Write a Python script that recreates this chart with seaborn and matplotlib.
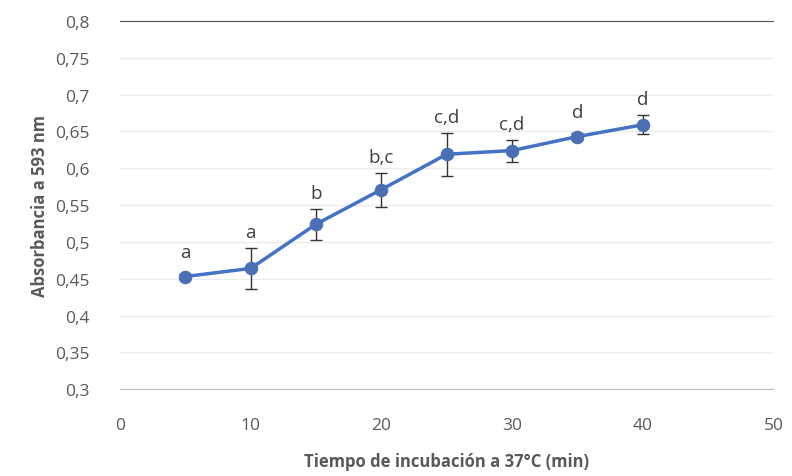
import matplotlib
matplotlib.use('Agg')
import matplotlib.pyplot as plt
import seaborn as sns
import pandas as pd
from matplotlib.ticker import FuncFormatter, MultipleLocator

# datos
tiempo = [5, 10, 15, 20, 25, 30, 35, 40]
absorbancia = [0.453, 0.464, 0.524, 0.571, 0.619, 0.624, 0.643, 0.659]
error = [0.004, 0.028, 0.021, 0.023, 0.029, 0.015, 0.005, 0.013]
letras = ['a', 'a', 'b', 'b,c', 'c,d', 'c,d', 'd', 'd']

df = pd.DataFrame({'tiempo': tiempo, 'abs': absorbancia, 'err': error})

sns.set_style('white')
plt.rcParams['font.family'] = ['Open Sans', 'DejaVu Sans']

gris = '#595959'
azul = '#4472C4'

fig = plt.figure(figsize=(7.92, 4.77), dpi=100)
ax = fig.add_axes([0.1515, 0.182, 0.825, 0.772])

ax.errorbar(df['tiempo'], df['abs'], yerr=df['err'], fmt='none',
            ecolor='#333333', elinewidth=1, capsize=4, capthick=1, zorder=2)
sns.lineplot(data=df, x='tiempo', y='abs', ax=ax, color=azul, linewidth=2.5,
             marker='o', markersize=9, markerfacecolor='#4a6fb5',
             markeredgecolor='#4a6fb5', zorder=3)

for x, y, e, t in zip(tiempo, absorbancia, error, letras):
    ax.annotate(t, (x, max(y + e, y + 0.012)), xytext=(0, 5), textcoords='offset points',
                ha='center', va='bottom', fontsize=13.5, color='#404040')

ax.set_xlim(0, 50)
ax.set_ylim(0.3, 0.8)
ax.xaxis.set_major_locator(MultipleLocator(10))
ax.yaxis.set_major_locator(MultipleLocator(0.05))
coma = FuncFormatter(lambda v, p: ('%g' % round(v, 2)).replace('.', ','))
ax.xaxis.set_major_formatter(coma)
ax.yaxis.set_major_formatter(coma)
ax.tick_params(axis='y', colors=gris, labelsize=12.5, length=0, pad=22)
ax.tick_params(axis='x', colors=gris, labelsize=12.5, length=0, pad=20)

ax.grid(axis='y', color='#ececec', linewidth=1)
for lado in ['left', 'right']:
    ax.spines[lado].set_visible(False)
ax.spines['top'].set_color('#555555')
ax.spines['bottom'].set_color('#bfbfbf')

ax.set_xlabel('Tiempo de incubación a 37°C (min)', fontsize=12,
              fontweight='bold', color=gris, labelpad=14)
ax.set_ylabel('Absorbancia a 593 nm', fontsize=12, fontweight='bold',
              color=gris, labelpad=4)

fig.savefig('out.png', dpi=100)
